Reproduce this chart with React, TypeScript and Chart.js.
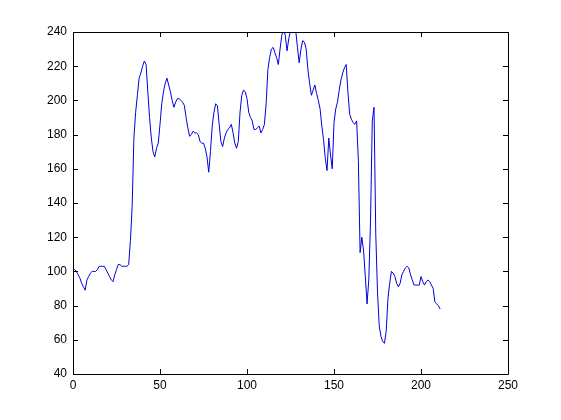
import React, { useEffect, useRef } from "react";
import { Chart, registerables } from "chart.js";

Chart.register(...registerables);

const yValues: number[] = [
  101, 101, 100, 98, 96, 93, 91, 89, 95, 97,
  99, 100, 100, 100, 101, 103, 103, 103, 103, 101,
  99, 97, 95, 94, 98, 101, 104, 104, 103, 103,
  103, 103, 104, 118, 138, 178, 193, 203, 213, 216,
  220, 223, 221, 205, 190, 178, 170, 167, 172, 175,
  186, 198, 205, 210, 213, 209, 205, 200, 196, 199,
  201, 201, 200, 199, 197, 190, 184, 179, 180, 182,
  181, 181, 180, 176, 175, 175, 172, 167, 158, 170,
  185, 193, 198, 197, 186, 176, 173, 178, 181, 183,
  184, 186, 181, 175, 172, 176, 193, 203, 206, 205,
  201, 193, 190, 188, 183, 183, 184, 185, 181, 183,
  186, 198, 218, 225, 230, 231, 228, 225, 221, 230,
  238, 242, 238, 229, 236, 241, 242, 241, 241, 231,
  222, 230, 235, 234, 230, 218, 210, 203, 206, 209,
  204, 200, 195, 185, 177, 166, 159, 178, 168, 160,
  187, 195, 199, 206, 212, 216, 219, 221, 205, 192,
  189, 187, 186, 188, 165, 111, 120, 112, 97, 81,
  95, 130, 188, 196, 122, 88, 68, 62, 59, 58,
  65, 84, 93, 100, 99, 97, 93, 91, 93, 98,
  100, 102, 103, 102, 98, 95, 92, 92, 92, 92,
  97, 94, 92, 94, 95, 94, 92, 90, 82, 81,
  80, 78,
];
const xValues: number[] = yValues.map((_, i) => i);

const xTicks: number[] = [0, 50, 100, 150, 200, 250];
const yTicks: number[] = [40, 60, 80, 100, 120, 140, 160, 180, 200, 220, 240];

const boxPlugin = {
  id: "matlabBox",
  afterDraw(chart: any) {
    const { ctx, chartArea } = chart;
    const { left, right, top, bottom } = chartArea;
    const xs = chart.scales.x;
    const ys = chart.scales.y;
    const tl = 5;
    ctx.save();
    ctx.strokeStyle = "#000";
    ctx.lineWidth = 1;
    ctx.beginPath();
    ctx.rect(Math.round(left) + 0.5, Math.round(top) + 0.5, Math.round(right - left), Math.round(bottom - top));
    for (const t of xTicks) {
      const px = Math.round(xs.getPixelForValue(t)) + 0.5;
      ctx.moveTo(px, bottom);
      ctx.lineTo(px, bottom - tl);
      ctx.moveTo(px, top);
      ctx.lineTo(px, top + tl);
    }
    for (const t of yTicks) {
      const py = Math.round(ys.getPixelForValue(t)) + 0.5;
      ctx.moveTo(left, py);
      ctx.lineTo(left + tl, py);
      ctx.moveTo(right, py);
      ctx.lineTo(right - tl, py);
    }
    ctx.stroke();
    ctx.restore();
  },
};

export default function App() {
  const ref = useRef<HTMLCanvasElement | null>(null);
  useEffect(() => {
    document.body.style.margin = "0";
    const canvas = ref.current;
    if (!canvas) return;
    const chart = new Chart(canvas, {
      type: "line",
      data: {
        datasets: [
          {
            data: xValues.map((x, i) => ({ x, y: yValues[i] })),
            borderColor: "#0000dd",
            borderWidth: 1,
            pointRadius: 0,
            tension: 0,
            fill: false,
          },
        ],
      },
      options: {
        responsive: false,
        animation: false,
        devicePixelRatio: 1,
        layout: { padding: { left: 0, top: 32, right: 53, bottom: 0 } },
        plugins: {
          legend: { display: false },
          tooltip: { enabled: false },
        },
        scales: {
          x: {
            type: "linear",
            min: 0,
            max: 250,
            afterFit: (s: any) => {
              s.height = 46;
            },
            afterBuildTicks: (s: any) => {
              s.ticks = xTicks.map((v) => ({ value: v }));
            },
            grid: { display: false, drawTicks: false },
            border: { display: false },
            ticks: {
              color: "#000",
              padding: 4,
              maxRotation: 0,
              font: { family: "Liberation Sans, Arial, sans-serif", size: 12 },
            },
          },
          y: {
            type: "linear",
            min: 40,
            max: 240,
            afterFit: (s: any) => {
              s.width = 73;
            },
            afterBuildTicks: (s: any) => {
              s.ticks = yTicks.map((v) => ({ value: v }));
            },
            grid: { display: false, drawTicks: false },
            border: { display: false },
            ticks: {
              color: "#000",
              padding: 6,
              font: { family: "Liberation Sans, Arial, sans-serif", size: 12 },
            },
          },
        },
      },
      plugins: [boxPlugin],
    });
    return () => chart.destroy();
  }, []);
  return (
    <div style={{ width: 561, height: 420, background: "#fff" }}>
      <canvas ref={ref} width={561} height={420} style={{ display: "block" }} />
    </div>
  );
}
